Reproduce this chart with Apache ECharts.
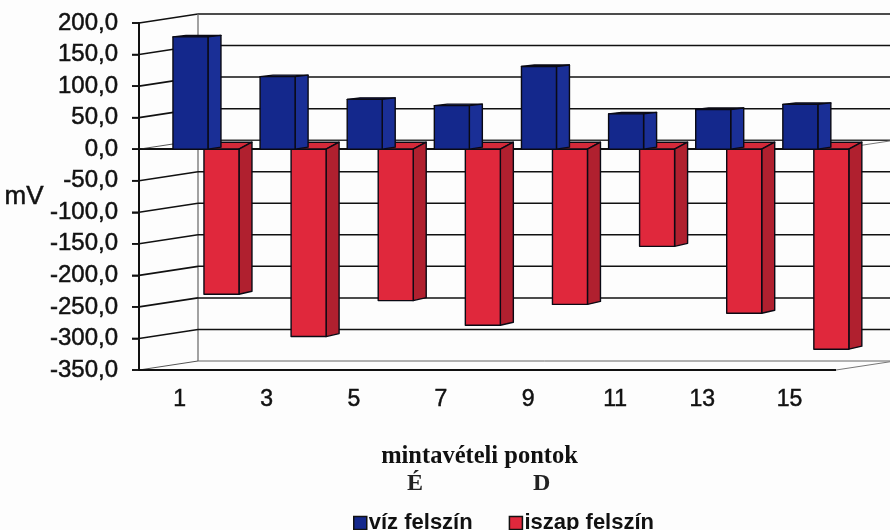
<!DOCTYPE html>
<html><head><meta charset="utf-8">
<style>html,body{margin:0;padding:0;background:#fdfdfd}#c{width:890px;height:530px}</style>
<script src="https://cdn.jsdelivr.net/npm/echarts@6/dist/echarts.min.js"></script>
</head><body><div id="c"></div>
<script>
var categories = ['1','3','5','7','9','11','13','15'];
var vizFelszin = [178, 115, 79, 69, 131, 56, 63, 71];
var iszapFelszin = [-230, -297, -240, -279, -246, -154, -260, -317];
var yTicks = [200,150,100,50,0,-50,-100,-150,-200,-250,-300,-350];
var DX = 59, DY = 9;

function wallItem(params, api){
  var v = api.value(1), y = api.coord([0,v])[1], cs = params.coordSys;
  var x0 = cs.x, x1 = cs.x + cs.width, kids = [];
  var soft = (v === -350 || v === 0);
  kids.push({type:'line', shape:{x1:x0-7,y1:y,x2:x0,y2:y}, style:{stroke:'#111', lineWidth:1.6}});
  kids.push({type:'line', shape:{x1:x0,y1:y,x2:x0+DX,y2:y-DY}, style:{stroke: soft?'#555':'#111', lineWidth:soft?1:1.6}});
  kids.push({type:'line', shape:{x1:x0+DX,y1:y-DY,x2:x1+DX,y2:y-DY}, style:{stroke: v===-350?'#666':(v===0?'#333':'#111'), lineWidth:v===-350?1:1.5}});
  if (v === 0 || v === -350){
    kids.push({type:'line', shape:{x1:x0,y1:y,x2:x1,y2:y}, style:{stroke:'#111', lineWidth:1.8}});
    kids.push({type:'line', shape:{x1:x1,y1:y,x2:x1+DX,y2:y-DY}, style:{stroke:'#777', lineWidth:1}});
  }
  if (v === 200){
    var yb = api.coord([0,-350])[1];
    kids.push({type:'line', shape:{x1:x0+DX,y1:y-DY,x2:x0+DX,y2:yb-DY}, style:{stroke:'#666', lineWidth:1.2}});
    kids.push({type:'line', shape:{x1:x0,y1:y,x2:x0,y2:yb}, style:{stroke:'#111', lineWidth:2}});
  }
  return {type:'group', children:kids};
}
function bar3d(offset, front, side, top, topDy, sideDy){
  return function(params, api){
    var i = api.value(0), v = api.value(1);
    var c = api.coord([i,0]), e = api.coord([i,v]), w = 35, d = 13;
    var x = c[0] + offset, y0 = c[1], y1 = e[1];
    var up = Math.min(y0,y1), lo = Math.max(y0,y1);
    var line = {stroke:'#0a0a14', lineWidth:1.4, lineJoin:'round'};
    return {type:'group', children:[
      {type:'polygon', shape:{points:[[x,up],[x+d,up-topDy],[x+w+d,up-topDy],[x+w,up]]}, style:Object.assign({fill:top},line)},
      {type:'polygon', shape:{points:[[x+w,up],[x+w+d,up-topDy],[x+w+d,lo-sideDy],[x+w,lo]]}, style:Object.assign({fill:side},line)},
      {type:'rect', shape:{x:x,y:up,width:w,height:lo-up}, style:Object.assign({fill:front},line)}
    ]};
  };
}
var heavy = {textBorderColor:'#111', textBorderWidth:0.5};
var chart = echarts.init(document.getElementById('c'), null, {renderer:'canvas'});
chart.setOption({
  animation:false,
  backgroundColor:'#fdfdfd',
  grid:{left:139, top:23, width:697, height:347, containLabel:false, outerBoundsMode:'none'},
  legend:{
    left:348, top:507, itemWidth:13, itemHeight:13, itemGap:36, icon:'rect',
    textStyle:{fontFamily:'Liberation Sans', fontSize:22, fontWeight:'bold', color:'#111', padding:[0,0,0,-3]},
    data:[
      {name:'víz felszín', itemStyle:{color:'#14288c', borderColor:'#111', borderWidth:1.5}},
      {name:'iszap felszín', itemStyle:{color:'#e0283c', borderColor:'#111', borderWidth:1.5}}
    ]
  },
  xAxis:{
    type:'category', data:categories,
    axisLine:{show:true, lineStyle:{color:'#111', width:1.8}}, axisTick:{show:false},
    axisLabel:Object.assign({fontFamily:'Liberation Sans', fontSize:23, color:'#111', margin:18, padding:[0,6,0,0]}, heavy),
    name:'mintavételi pontok', nameLocation:'middle', nameGap:74,
    nameTextStyle:{fontFamily:'Liberation Serif', fontSize:24.5, fontWeight:'bold', color:'#111', padding:[0,16,0,0]}
  },
  yAxis:{
    type:'value', min:-350, max:200, interval:50,
    axisLine:{show:true, onZero:false, lineStyle:{color:'#111', width:2}},
    axisTick:{show:true, length:7, lineStyle:{color:'#111', width:1.5}},
    splitLine:{show:false},
    axisLabel:Object.assign({fontFamily:'Liberation Sans', fontSize:24, color:'#111', margin:21,
      formatter:function(v){return v.toFixed(1).replace('.',',');}}, heavy),
    name:'mV', nameLocation:'middle', nameRotate:0, nameGap:91,
    nameTextStyle:Object.assign({fontFamily:'Liberation Sans', fontSize:26, color:'#111', padding:[0,0,6,0]}, heavy)
  },
  graphic:[
    {type:'text', left:407, top:472, style:{text:'É', fontFamily:'Liberation Serif', fontSize:24, fontWeight:'bold', fill:'#222'}},
    {type:'text', left:533, top:472, style:{text:'D', fontFamily:'Liberation Serif', fontSize:24, fontWeight:'bold', fill:'#222'}}
  ],
  series:[
    {type:'custom', name:'fal', z:1, silent:true, renderItem:wallItem, encode:{y:1},
      data:yTicks.map(function(v){return [0,v];})},
    {type:'custom', name:'iszap felszín', z:2, renderItem:bar3d(21.4,'#e0283c','#b0202f','#d42a3a',7,3), encode:{x:0,y:1},
      data:iszapFelszin.map(function(v,i){return [i,v];})},
    {type:'custom', name:'víz felszín', z:3, renderItem:bar3d(-9.6,'#14288c','#1a2f96','#14288c',1.5,2), encode:{x:0,y:1},
      data:vizFelszin.map(function(v,i){return [i,v];})}
  ]
});
</script></body></html>
